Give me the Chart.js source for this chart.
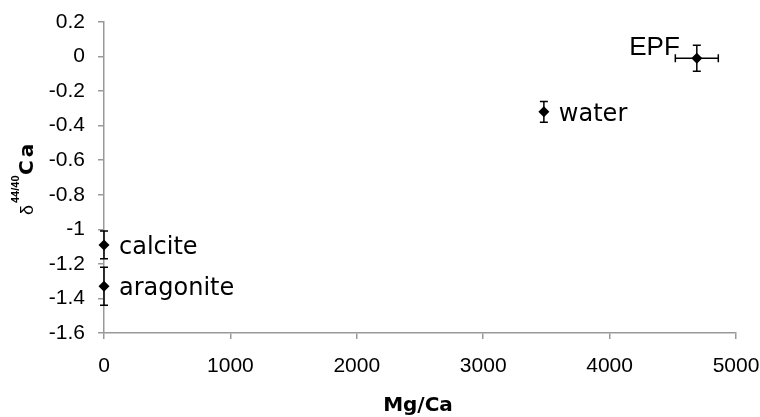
<!DOCTYPE html>
<html>
<head>
<meta charset="utf-8">
<script src="https://cdn.jsdelivr.net/npm/chart.js@4.4.1/dist/chart.umd.min.js"></script>
<style>
  html, body { margin: 0; padding: 0; background: #fff; }
  #wrap { width: 760px; height: 417px; }
</style>
</head>
<body>
<div id="wrap"><canvas id="chart" width="760" height="417"></canvas></div>
<script>
// Mg/Ca vs delta 44/40 Ca
const pointNames = ['calcite', 'aragonite', 'water', 'EPF'];
const mgCa = [0, 0, 3480, 4690];
const mgCaErr = [0, 0, 0, 170];
const deltaCa = [-1.09, -1.33, -0.32, -0.01];
const deltaCaErr = [0.08, 0.11, 0.06, 0.075];
const xTicks = [0, 1000, 2000, 3000, 4000, 5000];
const yTicks = [0.2, 0, -0.2, -0.4, -0.6, -0.8, -1, -1.2, -1.4, -1.6];

const axisColor = '#999999';
const fontFamily = 'Arial, "Liberation Sans", sans-serif';
const labelFont = '"DejaVu Sans", Arial, sans-serif';

// error bars + point labels + axis titles
const extras = {
  id: 'extras',
  afterDatasetsDraw(chart) {
    const ctx = chart.ctx;
    const xs = chart.scales.x;
    const ys = chart.scales.y;
    ctx.save();
    ctx.strokeStyle = '#000';
    ctx.lineWidth = 1.5;
    const cap = 4;
    for (let i = 0; i < mgCa.length; i++) {
      const px = xs.getPixelForValue(mgCa[i]);
      const py = ys.getPixelForValue(deltaCa[i]);
      const top = ys.getPixelForValue(deltaCa[i] + deltaCaErr[i]);
      const bot = ys.getPixelForValue(deltaCa[i] - deltaCaErr[i]);
      ctx.beginPath();
      ctx.moveTo(px, top); ctx.lineTo(px, bot);
      ctx.moveTo(px - cap, top); ctx.lineTo(px + cap, top);
      ctx.moveTo(px - cap, bot); ctx.lineTo(px + cap, bot);
      if (mgCaErr[i] > 0) {
        const l = xs.getPixelForValue(mgCa[i] - mgCaErr[i]);
        const r = xs.getPixelForValue(mgCa[i] + mgCaErr[i]);
        ctx.moveTo(l, py); ctx.lineTo(r, py);
        ctx.moveTo(l, py - cap); ctx.lineTo(l, py + cap);
        ctx.moveTo(r, py - cap); ctx.lineTo(r, py + cap);
      }
      ctx.stroke();
    }

    ctx.fillStyle = '#000';
    ctx.textBaseline = 'alphabetic';
    for (let i = 0; i < pointNames.length; i++) {
      const px = xs.getPixelForValue(mgCa[i]);
      const py = ys.getPixelForValue(deltaCa[i]);
      if (pointNames[i] === 'EPF') {
        ctx.font = '26px ' + fontFamily;
        ctx.textAlign = 'right';
        ctx.fillText(pointNames[i], px - 17, py - 3);
      } else {
        ctx.font = '24px ' + labelFont;
        ctx.textAlign = 'left';
        ctx.fillText(pointNames[i], px + 15, py + 9);
      }
    }

    // x title
    ctx.font = 'bold 20px ' + labelFont;
    ctx.textAlign = 'center';
    ctx.fillText('Mg/Ca', 418, 411);

    // y title, rotated
    ctx.translate(33, 215);
    ctx.rotate(-Math.PI / 2);
    ctx.textAlign = 'left';
    ctx.font = '18px ' + fontFamily;
    ctx.fillText('δ', 0, 0);
    ctx.font = 'bold 11px ' + fontFamily;
    ctx.fillText('44/40', 12, -14);
    ctx.font = 'bold 20px ' + labelFont;
    ctx.letterSpacing = '3px';
    ctx.fillText('Ca', 40, 0);
    ctx.restore();
  }
};

new Chart(document.getElementById('chart'), {
  type: 'scatter',
  data: {
    datasets: [{
      label: 'samples',
      data: mgCa.map((x, i) => ({ x: x, y: deltaCa[i] })),
      pointStyle: 'rectRot',
      pointRadius: 5.5,
      backgroundColor: '#000',
      borderColor: '#000',
      borderWidth: 0,
      clip: false
    }]
  },
  options: {
    responsive: false,
    animation: false,
    layout: { padding: { top: 22, right: 24, left: 0, bottom: 0 } },
    plugins: { legend: { display: false }, tooltip: { enabled: false } },
    scales: {
      x: {
        type: 'linear',
        min: 0,
        max: 5000,
        afterBuildTicks: (scale) => { scale.ticks = xTicks.map(v => ({ value: v })); },
        afterFit: (scale) => {
          scale.height = 84;
          scale.paddingLeft = 0;
          scale.paddingRight = 0;
        },
        border: { color: axisColor, width: 1.5 },
        grid: { drawOnChartArea: false, color: axisColor, tickLength: 6, lineWidth: 1.5 },
        ticks: {
          color: '#000',
          padding: 15,
          maxRotation: 0,
          font: { size: 21, family: fontFamily },
          callback: (v) => String(v)
        }
      },
      y: {
        type: 'linear',
        min: -1.6,
        max: 0.2,
        afterBuildTicks: (scale) => { scale.ticks = yTicks.map(v => ({ value: v })); },
        afterFit: (scale) => {
          scale.width = 104;
          scale.paddingTop = 0;
          scale.paddingBottom = 0;
        },
        border: { color: axisColor, width: 1.5 },
        grid: { drawOnChartArea: false, color: axisColor, tickLength: 6, lineWidth: 1.5 },
        ticks: {
          color: '#000',
          padding: 13,
          font: { size: 21, family: fontFamily },
          callback: (v) => String(Number(v.toFixed(1)))
        }
      }
    }
  },
  plugins: [extras]
});
</script>
</body>
</html>
